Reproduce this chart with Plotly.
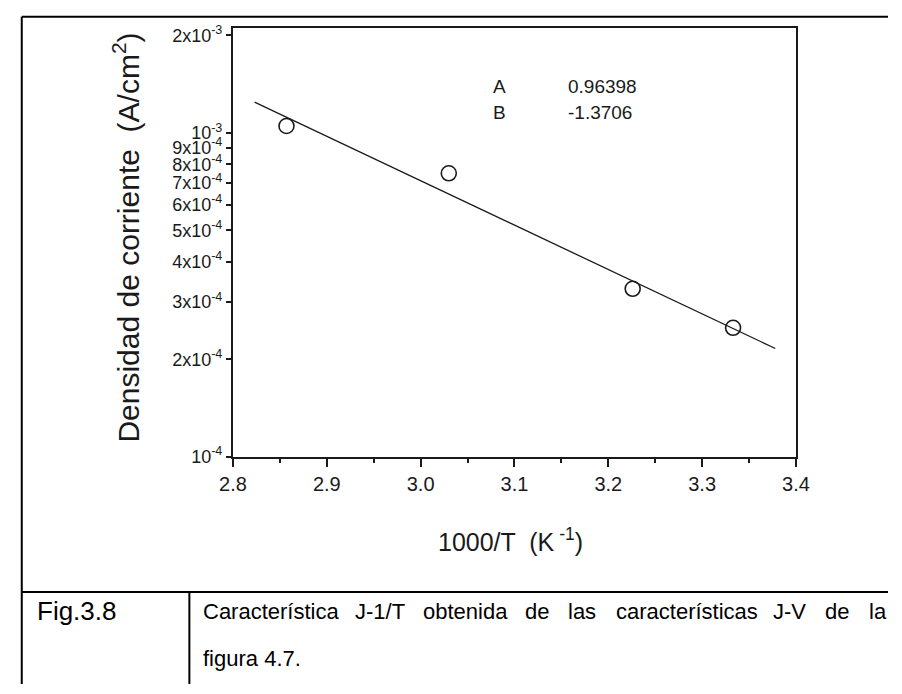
import plotly.graph_objects as go

# Measured points: 1000/T (K^-1) vs current density (A/cm^2)
inv_T = [2.857, 3.030, 3.226, 3.333]
J = [1.05e-3, 7.5e-4, 3.3e-4, 2.5e-4]

# Linear fit of log10(J) = A + B * (1000/T)
fit_A = 0.96398
fit_B = -1.3706
fit_x = [2.823, 3.378]

x_tickvals = [2.8, 2.9, 3.0, 3.1, 3.2, 3.3, 3.4]
x_ticktext = ["2.8", "2.9", "3.0", "3.1", "3.2", "3.3", "3.4"]
y_tickvals = [1e-4, 2e-4, 3e-4, 4e-4, 5e-4, 6e-4, 7e-4, 8e-4, 9e-4, 1e-3, 2e-3]
y_ticktext = ["10<sup>-4</sup>", "2x10<sup>-4</sup>", "3x10<sup>-4</sup>",
              "4x10<sup>-4</sup>", "5x10<sup>-4</sup>", "6x10<sup>-4</sup>",
              "7x10<sup>-4</sup>", "8x10<sup>-4</sup>", "9x10<sup>-4</sup>",
              "10<sup>-3</sup>", "2x10<sup>-3</sup>"]

caption_label = "Fig.3.8"
caption_line1 = ["Característica", "J-1/T", "obtenida", "de", "las",
                 "características", "J-V", "de", "la"]
caption_line2 = "figura 4.7."

W, H = 902, 694


def px(x):
    return x / W


def py(y):
    return 1 - y / H


fit_y = [10 ** (fit_A + fit_B * x) for x in fit_x]

AX_FONT = "Liberation Sans, Arial, sans-serif"
CAP_FONT = "Liberation Sans, Arial, sans-serif"
INK = "#1a1a1a"

fig = go.Figure()
fig.add_trace(go.Scatter(x=fit_x, y=fit_y, mode="lines",
                         line=dict(color=INK, width=1.3), showlegend=False))
fig.add_trace(go.Scatter(x=inv_T, y=J, mode="markers",
                         marker=dict(symbol="circle-open", size=15, color=INK,
                                     line=dict(color=INK, width=1.6)),
                         showlegend=False))

fig.update_layout(
    width=W, height=H, autosize=False,
    margin=dict(l=0, r=0, t=0, b=0),
    paper_bgcolor="white", plot_bgcolor="white",
    xaxis=dict(domain=[px(226), px(807)], range=[2.8, 3.4],
               showgrid=False, zeroline=False,
               showline=True, mirror=True, linecolor=INK, linewidth=2,
               ticks="outside", ticklen=8, tickwidth=1.5, tickcolor=INK,
               tickvals=x_tickvals, ticktext=x_ticktext,
               tickfont=dict(family=AX_FONT, size=20, color=INK),
               minor=dict(ticks="outside", ticklen=4, tickwidth=1.5,
                          tickcolor=INK, dtick=0.05, tick0=2.8)),
    yaxis=dict(domain=[py(462), py(24)], type="log", range=[-4, -2.6747],
               showgrid=False, zeroline=False,
               showline=True, mirror=True, linecolor=INK, linewidth=2,
               ticks="outside", ticklen=5, tickwidth=1.5, tickcolor=INK,
               tickvals=y_tickvals, ticktext=y_ticktext,
               tickfont=dict(family=AX_FONT, size=18, color=INK)),
)

ann = []
# axis titles
ann.append(dict(x=px(116), y=py(238), xref="paper", yref="paper",
                text="Densidad de corriente  (A/cm<sup>2</sup>)", textangle=-90,
                showarrow=False, xanchor="center", yanchor="middle",
                font=dict(family=AX_FONT, size=30, color=INK)))
ann.append(dict(x=px(512), y=py(547), xref="paper", yref="paper",
                text="1000/T  (K<sup> -1</sup>)",
                showarrow=False, xanchor="center", yanchor="middle",
                font=dict(family=AX_FONT, size=25, color=INK)))
# fit parameters
for label, val, yy in [("A", f"{fit_A:.5f}", 84), ("B", f"{fit_B:.4f}", 111)]:
    ann.append(dict(x=px(501), y=py(yy), xref="paper", yref="paper", text=label,
                    showarrow=False, xanchor="center", yanchor="middle",
                    font=dict(family=AX_FONT, size=19, color=INK)))
    ann.append(dict(x=px(570), y=py(yy), xref="paper", yref="paper", text=val,
                    showarrow=False, xanchor="left", yanchor="middle",
                    font=dict(family=AX_FONT, size=19, color=INK)))

# caption table
ann.append(dict(x=px(22), y=py(619), xref="paper", yref="paper", text=caption_label,
                showarrow=False, xanchor="left", yanchor="middle",
                font=dict(family=CAP_FONT, size=26, color="black")))
word_x = [193, 350, 420, 525, 570, 619, 781, 835, 880]
for wx, word in zip(word_x, caption_line1):
    ann.append(dict(x=px(wx), y=py(620), xref="paper", yref="paper", text=word,
                    showarrow=False, xanchor="left", yanchor="middle",
                    font=dict(family=CAP_FONT, size=22, color="black")))
ann.append(dict(x=px(193), y=py(668), xref="paper", yref="paper", text=caption_line2,
                showarrow=False, xanchor="left", yanchor="middle",
                font=dict(family=CAP_FONT, size=22, color="black")))
fig.update_layout(annotations=ann)

# table borders
shapes = []
for x0, y0, x1, y1 in [(8, 13, 902, 13), (8, 13, 8, 694), (8, 600, 902, 600),
                       (181, 600, 181, 694)]:
    shapes.append(dict(type="line", xref="paper", yref="paper",
                       x0=px(x0), y0=py(y0), x1=px(x1), y1=py(y1),
                       line=dict(color="black", width=2)))
fig.update_layout(shapes=shapes)

fig.write_html("out.html")
